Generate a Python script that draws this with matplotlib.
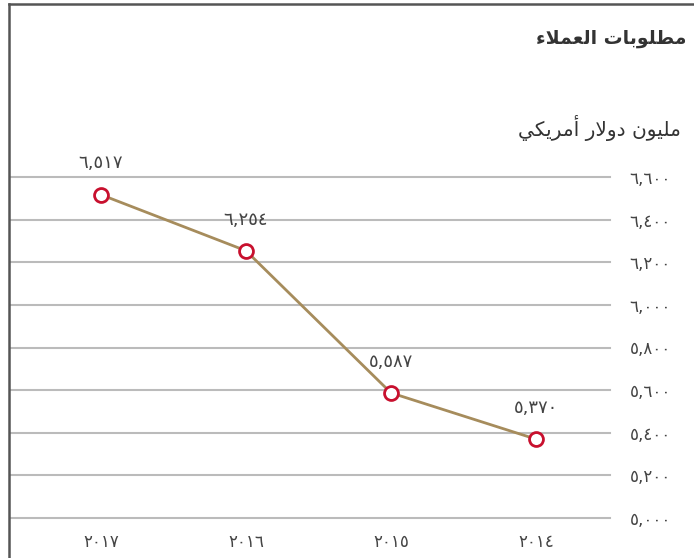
import matplotlib
matplotlib.use('Agg')
import matplotlib.pyplot as plt
from matplotlib.lines import Line2D

# data (values in million USD)
years = ['٢٠١٧', '٢٠١٦', '٢٠١٥', '٢٠١٤']
values = [6517, 6254, 5587, 5370]
value_labels = ['٦,٥١٧', '٦,٢٥٤', '٥,٥٨٧', '٥,٣٧٠']
y_ticks = [5000, 5200, 5400, 5600, 5800, 6000, 6200, 6400, 6600]
y_tick_labels = ['٥,٠٠٠', '٥,٢٠٠', '٥,٤٠٠', '٥,٦٠٠', '٥,٨٠٠',
                 '٦,٠٠٠', '٦,٢٠٠', '٦,٤٠٠', '٦,٦٠٠']

# Arabic text, pre-shaped (presentation forms, visual order) since matplotlib has no bidi
# "مطلوبات العملاء"
title = '\uFE80\uFEFC\uFEE4\uFECC\uFEDF\uFE8D \uFE95\uFE8E\uFE91\uFEEE\uFEE0\uFEC4\uFEE3'
# "مليون دولار أمريكي"
unit = '\uFEF2\uFEDC\uFEF3\uFEAE\uFEE3\uFE83 \uFEAD\uFEFB\uFEED\uFEA9 \uFEE5\uFEEE\uFEF4\uFEE0\uFEE3'

plt.rcParams['font.family'] = ['DejaVu Sans']

fig = plt.figure(figsize=(6.94, 5.58), dpi=100)
ax = fig.add_axes([11 / 694, 40 / 558, 599 / 694, 341 / 558])

x = list(range(len(years)))
ax.plot(x, values, color='#a68c5c', lw=2, zorder=3)
ax.plot(x, values, 'o', ms=10, mfc='white', mec='#c8102e', mew=2, zorder=4, clip_on=False)

for xi, v, lab in zip(x, values, value_labels):
    ax.annotate(lab, (xi, v), xytext=(0, 16), textcoords='offset points',
                ha='center', va='bottom', fontsize=13, color='#444444')

ax.set_xlim(-0.62, 3.51)
ax.set_ylim(5000, 6600)
ax.set_yticks(y_ticks)
ax.set_yticklabels(y_tick_labels)
ax.set_xticks(x)
ax.set_xticklabels(years)
ax.yaxis.tick_right()
ax.tick_params(axis='y', length=0, pad=14, labelsize=12, labelcolor='#444444')
ax.tick_params(axis='x', length=0, pad=11, labelsize=12, labelcolor='#444444')
ax.grid(axis='y', color='#bbbbbb', lw=1.5)
for gl in ax.get_ygridlines():
    gl.set_clip_on(False)
ax.set_axisbelow(True)
for s in ax.spines.values():
    s.set_visible(False)

fig.text(686 / 694, 1 - 38 / 558, title, ha='right', va='center',
         fontsize=13.5, fontweight='bold', color='#333333')
fig.text(681 / 694, 1 - 128 / 558, unit, ha='right', va='center',
         fontsize=14.5, color='#333333')

# frame on left and top
fig.add_artist(Line2D([9 / 694, 9 / 694], [0, 1 - 4 / 558], color='#555555', lw=1.8,
                      transform=fig.transFigure))
fig.add_artist(Line2D([9 / 694, 1], [1 - 4 / 558, 1 - 4 / 558], color='#555555', lw=1.8,
                      transform=fig.transFigure))

fig.savefig('out.png', dpi=100)
